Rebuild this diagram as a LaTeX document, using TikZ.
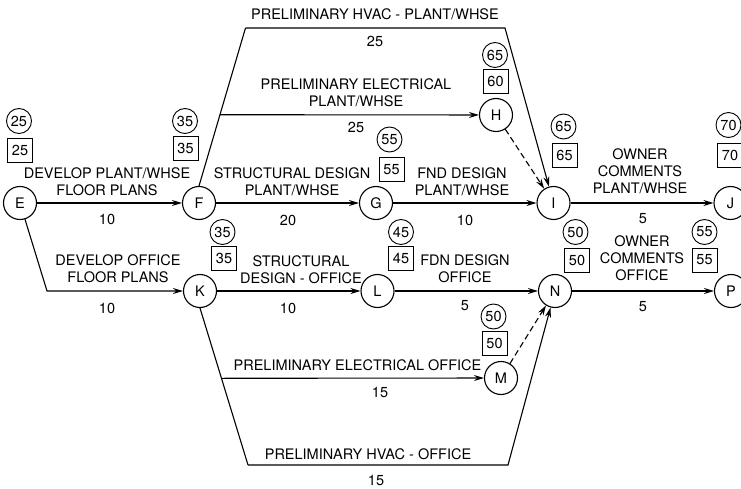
\documentclass[tikz,border=0pt]{standalone}
\usepackage{fontspec}
\setmainfont{TeX Gyre Heros}
\usetikzlibrary{arrows.meta}
\newcommand\lbfont{\fontsize{14.5}{17}\selectfont}
\tikzset{
  ev/.style={circle,draw,line width=1.1pt,minimum size=33pt,inner sep=0pt,font=\lbfont},
  ec/.style={circle,draw,line width=0.9pt,minimum size=25pt,inner sep=0pt,font=\lbfont},
  es/.style={rectangle,draw,line width=0.9pt,minimum width=25pt,minimum height=24pt,inner sep=0pt,font=\lbfont},
  lb/.style={align=center,inner sep=0pt,font=\lbfont},
  con/.style={line width=1.1pt},
  arr/.style={con,-{Stealth[length=10pt,width=6pt]}},
  darr/.style={arr,dash pattern=on 6pt off 3.5pt},
}
\begin{document}
\begin{tikzpicture}[x=1pt,y=-1pt]
\clip (0,0) rectangle (741,489);
\fill[white] (0,0) rectangle (741,489);
% events
\node[ev] (E) at (20,203) {E};
\node[ev] (F) at (199,203) {F};
\node[ev] (G) at (376,203) {G};
\node[ev] (H) at (496,115) {H};
\node[ev] (I) at (553.5,203) {I};
\node[ev] (J) at (730.5,203) {J};
\node[ev] (K) at (200,291) {K};
\node[ev] (L) at (377.5,291) {L};
\node[ev] (N) at (555,291) {N};
\node[ev] (M) at (501,378) {M};
\node[ev] (P) at (731,291) {P};
% annotations
\node[ec] (cE) at (19,121) {25};   \node[es] (sE) at (20,150) {25};
\node[ec] (cF) at (185,121) {35};  \node[es] (sF) at (185.5,148.5) {35};
\node[ec] (cG) at (389.5,139.5) {55}; \node[es] (sG) at (391.5,169.5) {55};
\node[ec] (cH) at (495,55) {65};   \node[es] (sH) at (495.5,81.5) {60};
\node[ec] (cI) at (563.5,126.5) {65}; \node[es] (sI) at (564.5,155.5) {65};
\node[ec] (cJ) at (728.5,125) {70}; \node[es] (sJ) at (730,155.5) {70};
\node[ec] (cK) at (222.5,232) {35}; \node[es] (sK) at (224,258.5) {35};
\node[ec] (cL) at (401,232) {45};  \node[es] (sL) at (401,258.5) {45};
\node[ec] (cN) at (575.5,232) {50}; \node[es] (sN) at (577,260.5) {50};
\node[ec] (cM) at (493.5,316.5) {50}; \node[es] (sM) at (494.5,343.5) {50};
\node[ec] (cP) at (704.5,232) {55}; \node[es] (sP) at (704.5,260) {55};
% bend coordinates
\coordinate (ek) at (47,291);
\coordinate (ft) at (245.5,28);
\coordinate (it) at (505,28);
\coordinate (kb) at (248,465);
\coordinate (nb) at (508,465);
\path (F.north) -- (ft) coordinate[pos=0.451] (fh);
\path (K.south) -- (kb) coordinate[pos=0.4476] (km);
% connectors
\draw[arr] (E) -- (F);
\draw[arr] (E) -- (ek) -- (K);
\draw[con] (F.north) -- (ft);
\draw[arr] (ft) -- (it) -- (I);
\draw[arr] (fh) -- (H);
\draw[arr] (F) -- (G);
\draw[arr] (G) -- (I);
\draw[darr] (H) -- (I);
\draw[arr] (I) -- (J);
\draw[arr] (K) -- (L);
\draw[arr] (L) -- (N);
\draw[arr] (N) -- (P);
\draw[con] (K.south) -- (kb);
\draw[arr] (km) -- (M);
\draw[arr] (kb) -- (nb) -- (N);
\draw[darr] (M) -- (N);
% labels
\node[lb] (t1) at (107,181.5) {DEVELOP PLANT/WHSE\\FLOOR PLANS};
\node[lb] (d1) at (107,219) {10};
\node[lb] (t2) at (118,269) {DEVELOP OFFICE\\FLOOR PLANS};
\node[lb] (d2) at (107,308) {10};
\node[lb] (t3) at (375,14) {PRELIMINARY HVAC - PLANT/WHSE};
\node[lb] (d3) at (375,41) {25};
\node[lb] (t4) at (356,92.5) {PRELIMINARY ELECTRICAL\\PLANT/WHSE};
\node[lb] (d4) at (356,127) {25};
\node[lb] (t5) at (292,181.5) {STRUCTURAL DESIGN\\PLANT/WHSE};
\node[lb] (d5) at (288,220) {20};
\node[lb] (t6) at (462,181.5) {FND DESIGN\\PLANT/WHSE};
\node[lb] (d6) at (465,220) {10};
\node[lb] (t7) at (640,171.5) {OWNER\\COMMENTS\\PLANT/WHSE};
\node[lb] (d7) at (643,219) {5};
\node[lb] (t8) at (642,258.5) {OWNER\\COMMENTS\\OFFICE};
\node[lb] (d8) at (643,307) {5};
\node[lb] (t9) at (301,270) {STRUCTURAL\\DESIGN - OFFICE};
\node[lb] (d9) at (288,308) {10};
\node[lb] (t10) at (465,269) {FDN DESIGN\\OFFICE};
\node[lb] (d10) at (465,306) {5};
\node[lb] (t11) at (357.5,365) {PRELIMINARY ELECTRICAL OFFICE};
\node[lb] (d11) at (380,392) {15};
\node[lb] (t12) at (368,454) {PRELIMINARY HVAC - OFFICE};
\node[lb] (d12) at (376,480) {15};
\end{tikzpicture}
\end{document}
